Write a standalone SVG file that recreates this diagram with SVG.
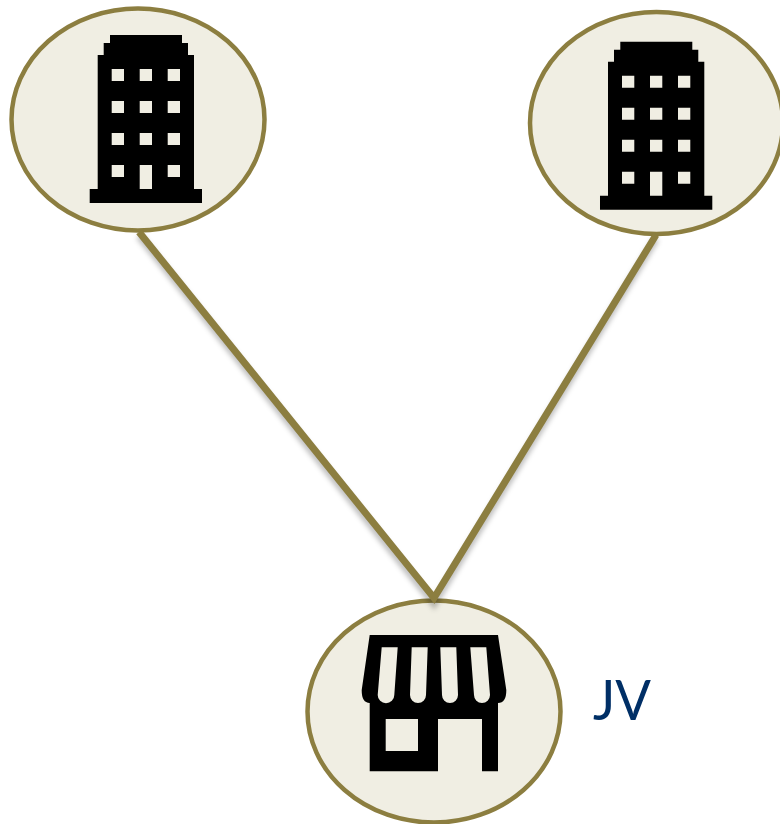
<svg xmlns="http://www.w3.org/2000/svg" width="780" height="824" viewBox="0 0 780 824">
  <style>
    .node { fill: #f0eee3; stroke: #8c7e40; stroke-width: 4.5; }
    .edge { fill: none; stroke: #8c7e40; stroke-width: 7; stroke-linejoin: miter; }
    .shadow { fill: none; stroke: #000; stroke-opacity: .25; stroke-width: 7; filter: url(#blur); }
    .icon { fill: #000; fill-rule: evenodd; }
    .label { font-family: "Lato", "Open Sans", sans-serif; font-size: 56px; fill: #002f66; }
  </style>
  <defs>
    <filter id="blur" x="-20%" y="-20%" width="140%" height="140%"><feGaussianBlur stdDeviation="2.5"/></filter>
    <path id="tower" class="icon" d="M110 35H182V43H188V55H194V189H202V203H89.7V189H97.7V55H103.7V43H110Z
      M111.7 69V81H124V69Z M139.7 69V81H152V69Z M167.7 69V81H180V69Z
      M111.7 101V113H124V101Z M139.7 101V113H152V101Z M167.7 101V113H180V101Z
      M111.7 133V145H124V133Z M139.7 133V145H152V133Z M167.7 133V145H180V133Z
      M111.7 165V177H124V165Z M139.7 165V189H152V165Z M167.7 165V177H180V165Z"/>
  </defs>
  <g id="node-left">
    <ellipse class="node" cx="138" cy="119.5" rx="126.5" ry="111"/>
    <use href="#tower"/>
  </g>
  <g id="node-right">
    <ellipse class="node" cx="656.5" cy="123" rx="126.5" ry="111"/>
    <use href="#tower" x="510.3" y="6.7"/>
  </g>
  <g id="node-jv">
    <ellipse class="node" cx="434" cy="711.5" rx="126.5" ry="111"/>
    <path class="icon" d="M369.7 635H498L506.3 690Q506.5 703 498 703V771.3H482V719H438V771.3H369.7V703Q361.5 703 361.7 690Z
      M385.7 719V751H418V719Z
      M381.7 647.3H397.7L394.3 695A8.3 8.3 0 0 1 377.7 695Z
      M411.7 647.3H427.7L426 695A8 8 0 0 1 410 695Z
      M440.3 647.3H456.3L458 695A8 8 0 0 1 442 695Z
      M470.3 647.3H486.3L490 695A8 8 0 0 1 474 695Z"/>
    <text class="label" x="593" y="720" textLength="58" lengthAdjust="spacingAndGlyphs">JV</text>
  </g>
  <g id="connectors">
    <path class="shadow" d="M139 236L434 604L656 239"/>
    <path class="edge" d="M139 232L434 598L656 235"/>
  </g>
</svg>
